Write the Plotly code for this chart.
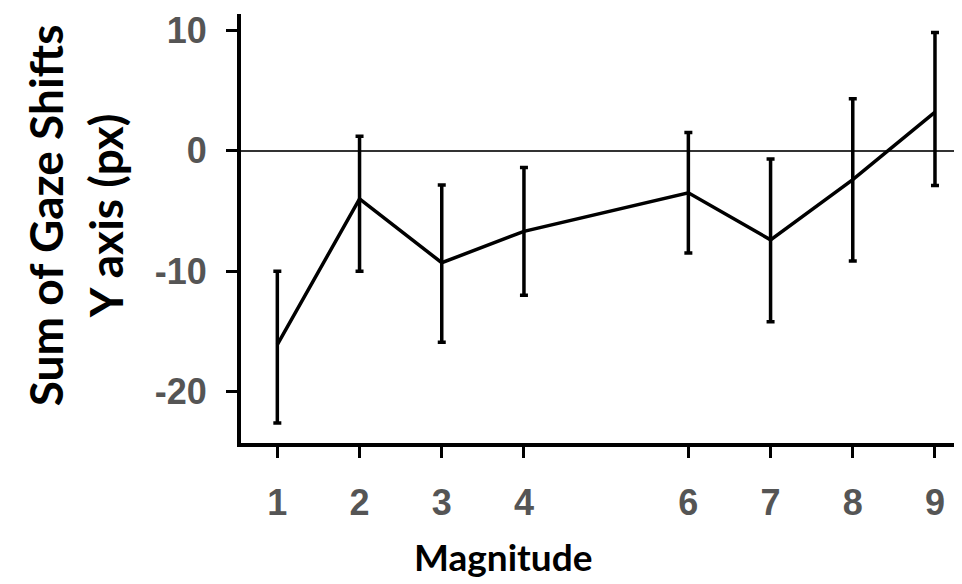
import plotly.graph_objects as go

magnitude = [1, 2, 3, 4, 6, 7, 8, 9]
mean_shift = [-16.1, -4.0, -9.3, -6.7, -3.5, -7.4, -2.4, 3.2]
err_upper = [-10.0, 1.2, -2.85, -1.4, 1.5, -0.7, 4.3, 9.8]
err_lower = [-22.6, -10.0, -15.9, -12.0, -8.5, -14.2, -9.15, -2.9]
x_ticks = [1, 2, 3, 4, 6, 7, 8, 9]
y_ticks = [10, 0, -10, -20]

plus = [u - m for u, m in zip(err_upper, mean_shift)]
minus = [m - l for m, l in zip(mean_shift, err_lower)]

fig = go.Figure()
fig.add_trace(go.Scatter(
    x=magnitude, y=mean_shift, mode="lines",
    line=dict(color="black", width=3.5),
    error_y=dict(type="data", symmetric=False, array=plus, arrayminus=minus,
                 color="black", thickness=3.5, width=4),
    showlegend=False,
))

tick_font = dict(family="Liberation Sans Narrow, Liberation Sans, Arial",
                 size=36, color="#555555", weight="bold")

fig.update_layout(
    width=962, height=584,
    margin=dict(l=233, r=0, t=6, b=149, autoexpand=False),
    paper_bgcolor="white", plot_bgcolor="white",
    xaxis=dict(range=[0.558, 9.426], tickvals=x_ticks, ticktext=[str(v) for v in x_ticks],
               showgrid=False, zeroline=False, showline=True, linecolor="black", linewidth=4,
               ticks="outside", ticklen=11, tickwidth=3, tickcolor="black",
               tickfont=tick_font, automargin=False, ticklabelstandoff=14),
    yaxis=dict(range=[-24.26, 11.34], tickvals=y_ticks, ticktext=[str(v) for v in y_ticks],
               showgrid=False, zeroline=True, zerolinecolor="#333333", zerolinewidth=1.8,
               showline=True, linecolor="black", linewidth=4,
               ticks="outside", ticklen=11, tickwidth=3, tickcolor="black",
               tickfont=tick_font, automargin=False, ticklabelstandoff=12),
    annotations=[
        dict(text="Magnitude", xref="paper", yref="paper", x=(503 - 241) / 729, y=0,
             yshift=-113, xanchor="center", yanchor="middle", showarrow=False,
             font=dict(family="Lato, Open Sans", size=37, color="black", weight="bold")),
        dict(text="Sum of Gaze Shifts<br>Y axis (px)", xref="paper", yref="paper",
             x=0, y=0.531, xshift=-166, xanchor="center", yanchor="middle",
             textangle=-90, showarrow=False,
             font=dict(family="Lato, Open Sans", size=46, color="black", weight="bold")),
    ],
)

fig.write_html("out.html")
